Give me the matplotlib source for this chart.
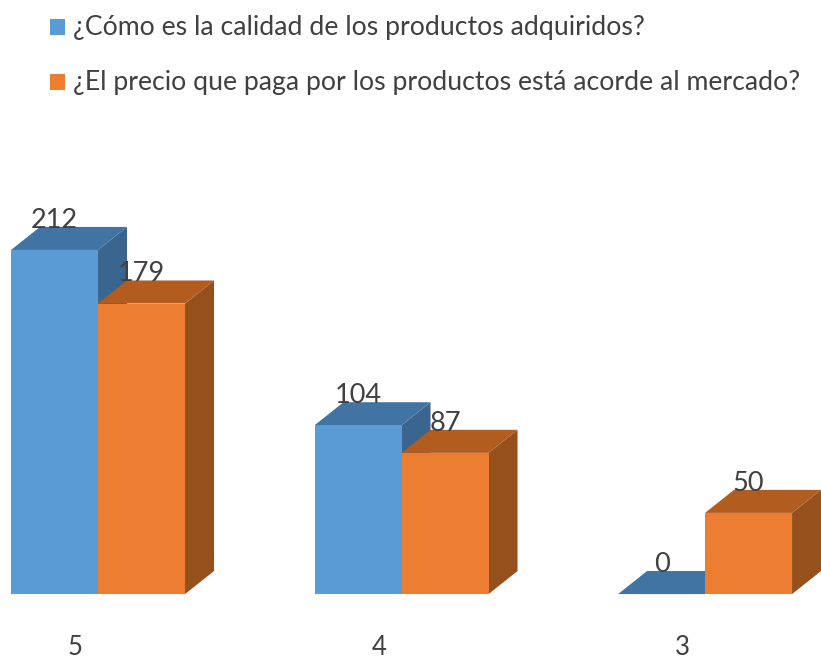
import numpy as np
import matplotlib
matplotlib.use("Agg")
import matplotlib.pyplot as plt
from matplotlib.patches import Polygon, Rectangle

plt.rcParams['font.family'] = ['Lato', 'DejaVu Sans']

categories = ['5', '4', '3']
calidad = [212, 104, 0]
precio = [179, 87, 50]
names = ['¿Cómo es la calidad de los productos adquiridos?',
         '¿El precio que paga por los productos está acorde al mercado?']
colors = ['#5B9BD5', '#ED7D31']
top_colors = ['#4274A3', '#B25C20']
side_colors = ['#3A658F', '#96501C']

text_color = '#404040'
width = 0.2866   # one bar, in category units
dx = 0.0955      # depth of the box
dy = 14.2        # depth of the box in value units

fig = plt.figure(figsize=(8.21, 6.59), dpi=100)
ax = fig.add_axes([0, 0, 1, 1])
ax.set_xlim(-0.323, 2.382)
ax.set_ylim(-40, 366)
ax.axis('off')


def box(x, v, i, z):
    # front, top and side of one bar
    ax.add_patch(Polygon([(x + width, 0), (x + width + dx, dy), (x + width + dx, v + dy), (x + width, v)],
                         fc=side_colors[i], ec='none', zorder=z))
    ax.add_patch(Polygon([(x, v), (x + dx, v + dy), (x + width + dx, v + dy), (x + width, v)],
                         fc=top_colors[i], ec='none', zorder=z))
    if v > 0:
        ax.bar(x, v, width, align='edge', color=colors[i], zorder=z + 0.5)


pos = np.arange(len(categories))
for n, (a, b) in enumerate(zip(calidad, precio)):
    box(pos[n] - width, a, 0, 2 + n)
    box(pos[n], b, 1, 3 + n)
    ax.text(pos[n] - width / 2, a + 10.5, str(a), fontsize=19.5, color=text_color,
            ha='center', va='bottom', zorder=10)
    ax.text(pos[n] + width / 2, b + 10.5, str(b), fontsize=19.5, color=text_color,
            ha='center', va='bottom', zorder=10)
    ax.text(pos[n] - 0.075, -33, categories[n], fontsize=18.5, color=text_color,
            ha='center', va='center')

# legend
legend_y = [0.959, 0.875]
for i in range(2):
    ax.add_patch(Rectangle((50 / 821, legend_y[i] - 7.5 / 659), 15 / 821, 16 / 659,
                           transform=ax.transAxes, fc=colors[i], ec='none'))
    ax.text(73 / 821, legend_y[i], names[i], transform=ax.transAxes, fontsize=19.15,
            color=text_color, ha='left', va='center')

fig.savefig('out.png', dpi=100)
